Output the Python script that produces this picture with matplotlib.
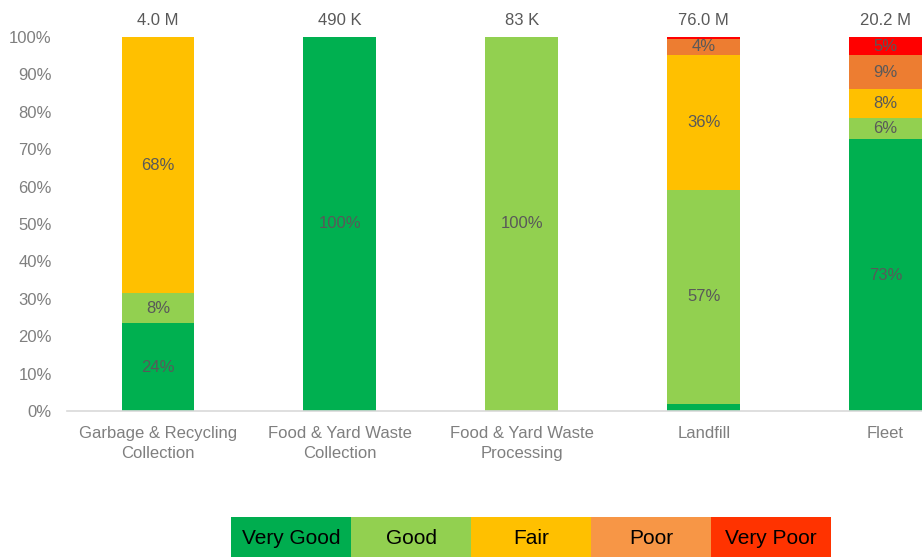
import matplotlib
matplotlib.use("Agg")
import matplotlib.pyplot as plt
import numpy as np

plt.rcParams["font.family"] = ["Liberation Sans", "DejaVu Sans"]

categories = ["Garbage & Recycling\nCollection", "Food & Yard Waste\nCollection",
              "Food & Yard Waste\nProcessing", "Landfill", "Fleet"]
totals = ["4.0 M", "490 K", "83 K", "76.0 M", "20.2 M"]
levels = ["Very Good", "Good", "Fair", "Poor", "Very Poor"]
very_good = [23.5, 100, 0, 1.9, 72.6]
good = [8, 0, 100, 57.3, 5.8]
fair = [68.5, 0, 0, 36, 7.7]
poor = [0, 0, 0, 4.3, 9]
very_poor = [0, 0, 0, 0.5, 4.9]
series = [very_good, good, fair, poor, very_poor]
bar_colors = ["#00B050", "#92D050", "#FFC000", "#ED7D31", "#FF0000"]
legend_colors = ["#00AD4F", "#92D050", "#FFC000", "#F79646", "#FF3300"]

W, H = 922, 557
fig = plt.figure(figsize=(W / 100, H / 100), dpi=100)
ax = fig.add_axes([67 / W, 146 / H, (W - 67) / W, 374 / H])

x = np.arange(len(categories))
bottom = np.zeros(len(categories))
for vals, col in zip(series, bar_colors):
    vals = np.array(vals, dtype=float)
    ax.bar(x, vals, 0.4, bottom=bottom, color=col, edgecolor="none")
    for xi, b, v in zip(x, bottom, vals):
        if v >= 3:
            ax.text(xi, b + v / 2, f"{round(v):d}%", ha="center", va="center",
                    fontsize=12, color="#595959")
    bottom += vals

for xi, t in zip(x, totals):
    ax.text(xi, 102.5, t, ha="center", va="bottom", fontsize=12, color="#595959",
            clip_on=False)

ax.set_xlim(-0.5, 4.2)
ax.set_ylim(0, 100)
ax.set_yticks(np.arange(0, 101, 10))
ax.set_yticklabels([f"{v}%" for v in range(0, 101, 10)])
ax.set_xticks(x)
ax.set_xticklabels(categories, linespacing=1.4)
ax.tick_params(axis="both", length=0, labelsize=12, labelcolor="#7F7F7F")
ax.tick_params(axis="x", pad=11)
ax.tick_params(axis="y", pad=11)
for s in ["top", "right", "left"]:
    ax.spines[s].set_visible(False)
ax.spines["bottom"].set_color("#D9D9D9")
ax.spines["bottom"].set_linewidth(1.2)

# legend strip
lax = fig.add_axes([231 / W, 0, 600 / W, 40 / H])
for i, (lab, col) in enumerate(zip(levels, legend_colors)):
    lax.bar(i, 1, 1.0, bottom=0, color=col, edgecolor="none", align="edge")
    lax.text(i + 0.5, 0.45, lab, ha="center", va="center", fontsize=15, color="black")
lax.set_xlim(0, 5)
lax.set_ylim(0, 1)
lax.axis("off")

fig.savefig("out.png", dpi=100)
